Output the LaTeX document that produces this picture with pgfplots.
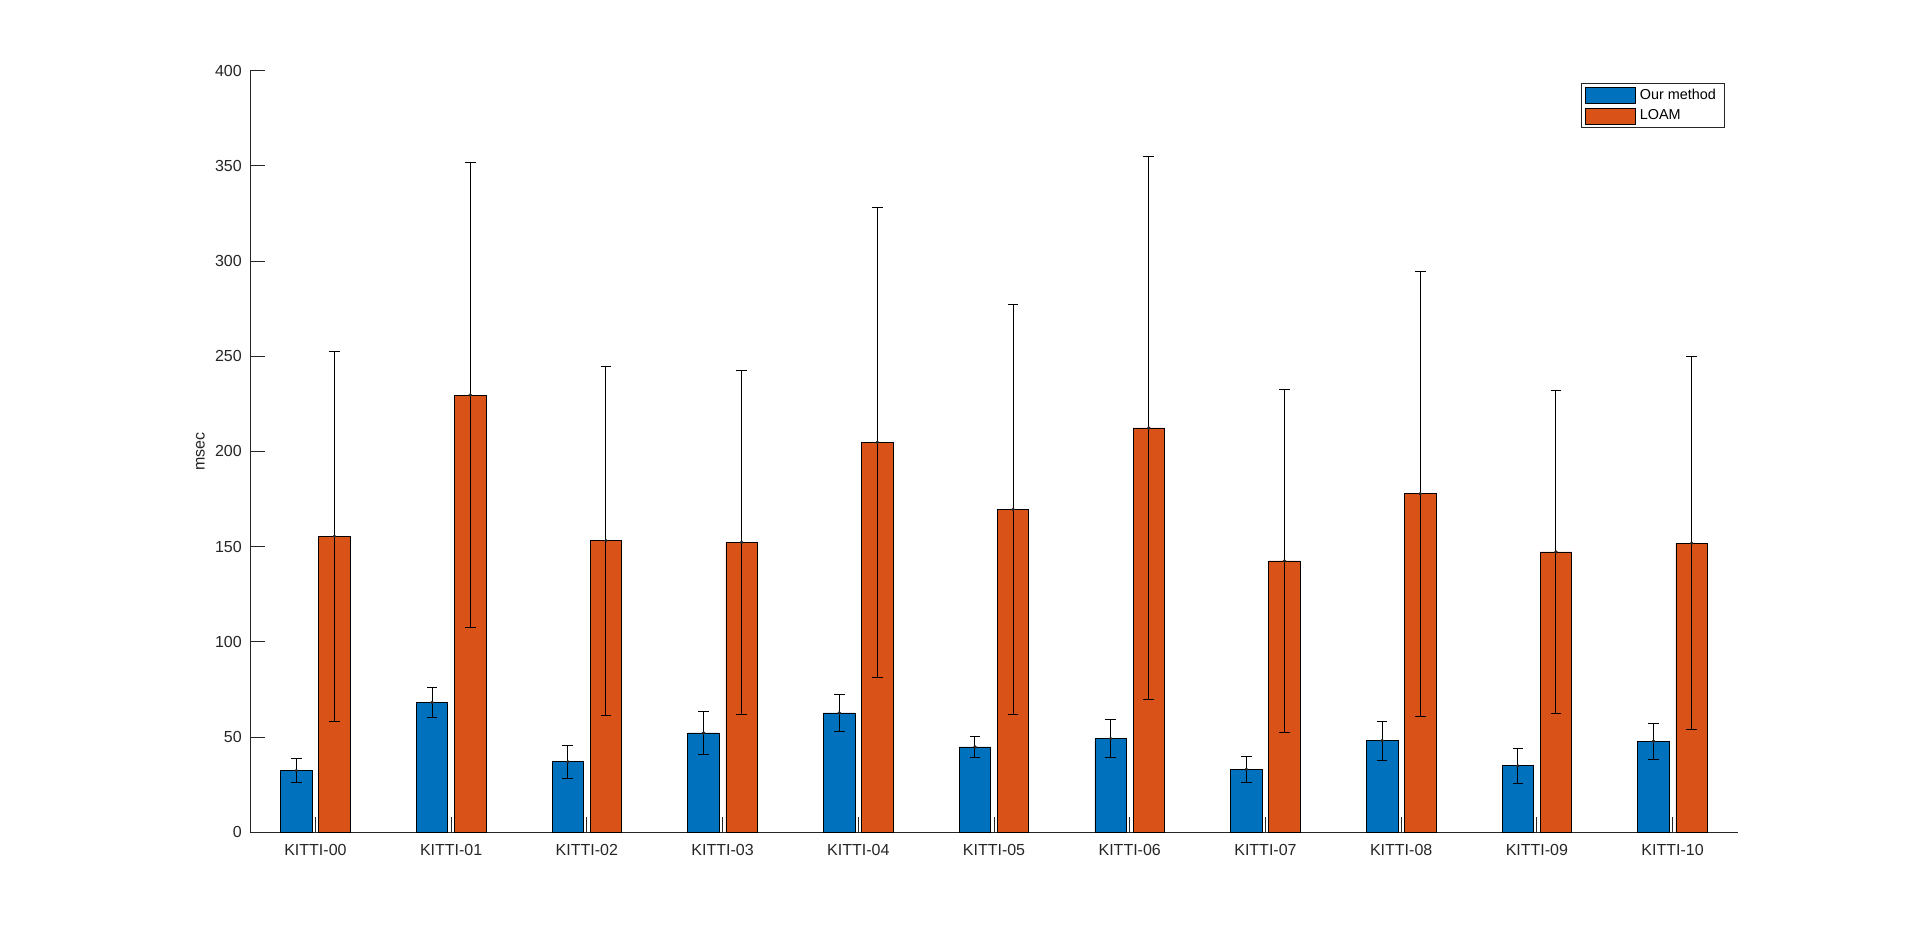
\documentclass[border=0pt]{standalone}
\usepackage{fontspec}
\setmainfont{Liberation Sans}
\usepackage{pgfplots}
\usepackage{pgfplotstable}
\pgfplotsset{compat=1.18}
\definecolor{mblue}{RGB}{0,114,189}
\definecolor{morange}{RGB}{217,83,25}
\definecolor{axgray}{RGB}{38,38,38}

\pgfplotstableread{
x our ourerr loam loamerr
0 32.4 6.5 155.4 97.2
1 68.2 8.0 229.6 122.1
2 37.0 8.7 153.1 91.7
3 52.2 11.3 152.2 90.4
4 62.7 9.7 204.8 123.5
5 44.8 5.6 169.6 107.8
6 49.2 10.0 212.3 142.6
7 33.0 6.8 142.5 90.2
8 48.1 10.3 177.8 116.9
9 34.9 9.2 147.2 84.9
10 47.8 9.5 151.8 97.8
}\data

\begin{document}
\begin{tikzpicture}
\path[use as bounding box] (0,0) rectangle (1440pt,702pt);
\begin{axis}[
  at={(187.5pt,77.8pt)}, anchor=south west,
  scale only axis, width=1116pt, height=571.3pt,
  xmin=-0.482, xmax=10.482, ymin=0, ymax=400,
  axis x line*=bottom, axis y line*=left,
  axis line style={axgray, line width=0.6pt},
  xtick={0,1,...,10},
  xticklabels={KITTI-00,KITTI-01,KITTI-02,KITTI-03,KITTI-04,KITTI-05,KITTI-06,KITTI-07,KITTI-08,KITTI-09,KITTI-10},
  ytick={0,50,...,400},
  tick align=inside, major tick length=11.1pt,
  tick style={axgray, line width=0.6pt},
  /pgf/number format/assume math mode=true,
  tick label style={font=\fontsize{12}{14}\selectfont, text=axgray, inner sep=0pt},
  xticklabel shift=9pt,
  yticklabel shift=6pt,
  ylabel={msec},
  ylabel style={at={([xshift=-33.75pt]axis description cs:0,0.5)}, anchor=south, inner sep=0pt, font=\fontsize{12}{14}\selectfont, text=axgray},
  legend style={at={(1,1)}, anchor=north east, xshift=-10.3pt, yshift=-9.5pt,
    draw=axgray, line width=0.5pt, fill=white, inner xsep=3pt, inner ysep=2.5pt,
    row sep=3pt, font=\fontsize{10.8}{13}\selectfont,
    nodes={inner xsep=3pt, inner ysep=1.5pt, text=black}},
  legend cell align=left,
  legend image code/.code={\draw[#1, line width=0.5pt] (0pt,-6pt) rectangle (37.5pt,6pt);},
]
\addplot[ybar, bar width=0.232, bar shift=-0.1404, fill=mblue, draw=black, line width=0.5pt]
  table[x=x, y=our] {\data};
\addlegendentry{Our method}
\addplot[ybar, bar width=0.232, bar shift=0.1404, fill=morange, draw=black, line width=0.5pt]
  table[x=x, y=loam] {\data};
\addlegendentry{LOAM}
\addplot[only marks, mark=*, mark size=1.1pt, axgray, forget plot,
  error bars/.cd, y dir=both, y explicit,
  error bar style={line width=0.75pt, black},
  error mark options={rotate=90, black, line width=0.75pt, mark size=4pt}]
  table[x expr=\thisrow{x}-0.1404, y=our, y error=ourerr] {\data};
\addplot[only marks, mark=*, mark size=1.1pt, axgray, forget plot,
  error bars/.cd, y dir=both, y explicit,
  error bar style={line width=0.75pt, black},
  error mark options={rotate=90, black, line width=0.75pt, mark size=4pt}]
  table[x expr=\thisrow{x}+0.1404, y=loam, y error=loamerr] {\data};
\end{axis}
\end{tikzpicture}
\end{document}
